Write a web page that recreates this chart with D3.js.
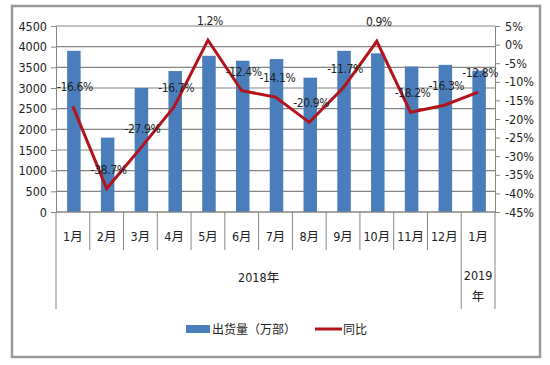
<!DOCTYPE html>
<html lang="zh">
<head>
<meta charset="UTF-8">
<title>出货量</title>
<script src="https://d3js.org/d3.v7.min.js"></script>
<style>
  body { margin: 0; background: #fff; }
  text { font-family: "Liberation Sans Narrow", "DejaVu Sans Condensed", "Liberation Sans", "Noto Sans CJK SC", sans-serif; fill: #222; }
  .cjk { font-family: "Noto Sans CJK SC", sans-serif; }
</style>
</head>
<body>
<script>
// data
var months = ["1月", "2月", "3月", "4月", "5月", "6月", "7月", "8月", "9月", "10月", "11月", "12月", "1月"];
var shipments = [3900, 1800, 3000, 3410, 3780, 3660, 3700, 3250, 3900, 3840, 3520, 3560, 3420];
var yoy = [-16.6, -38.7, -27.9, -16.7, 1.2, -12.4, -14.1, -20.9, -11.7, 0.9, -18.2, -16.3, -12.8];
var years = [{ label: "2018年", from: 0, to: 11 }, { label: "2019年", from: 12, to: 12 }];
var leftTicks = d3.range(0, 4501, 500);
var rightTicks = d3.range(-45, 6, 5);

var W = 550, H = 365;
var pLeft = 56, pRight = 495, pTop = 26, pBottom = 212;

var svg = d3.select("body").append("svg")
    .attr("width", W)
    .attr("height", H);

// outer frame
svg.append("rect")
    .attr("x", 12).attr("y", 6)
    .attr("width", 528).attr("height", 351)
    .attr("fill", "#fff")
    .attr("stroke", "#999").attr("stroke-width", 2.5);

var idx = d3.range(months.length);
var x = d3.scaleBand().domain(idx).range([pLeft, pRight]).padding(0);
var y = d3.scaleLinear().domain([0, 4500]).range([pBottom, pTop]);
var y2 = d3.scaleLinear().domain([-45, 5]).range([pBottom, pTop]);

// gridlines
svg.append("g").selectAll("line")
    .data(leftTicks)
    .enter().append("line")
    .attr("x1", pLeft).attr("x2", pRight)
    .attr("y1", d => y(d)).attr("y2", d => y(d))
    .attr("stroke", "#858585").attr("stroke-width", 1.2);

// bars
var bw = x.bandwidth() * 0.4;
svg.append("g").selectAll("rect")
    .data(shipments)
    .enter().append("rect")
    .attr("x", (d, i) => x(i) + (x.bandwidth() - bw) / 2 + 1)
    .attr("y", d => y(d))
    .attr("width", bw)
    .attr("height", d => pBottom - y(d))
    .attr("fill", "#4a7ebb");

// left axis
var ax = svg.append("g").attr("transform", "translate(" + pLeft + ",0)")
    .call(d3.axisLeft(y).tickValues(leftTicks).tickSize(5).tickPadding(4).tickFormat(d3.format("d")));
ax.select(".domain").attr("stroke", "#858585");
ax.selectAll(".tick line").attr("stroke", "#858585");
ax.selectAll("text").style("font-size", "12.5px").attr("fill", "#222");

// right axis
var ax2 = svg.append("g").attr("transform", "translate(" + pRight + ",0)")
    .call(d3.axisRight(y2).tickValues(rightTicks).tickSize(5).tickPadding(5).tickFormat(d => d + "%"));
ax2.select(".domain").attr("stroke", "#858585");
ax2.selectAll(".tick line").attr("stroke", "#858585");
ax2.selectAll("text").style("font-size", "12.5px").attr("fill", "#222");

// x axis line + category dividers
svg.append("line")
    .attr("x1", pLeft).attr("x2", pRight)
    .attr("y1", pBottom).attr("y2", pBottom)
    .attr("stroke", "#858585");

var bounds = d3.range(months.length + 1);
var longB = [0, 12, 13];
svg.append("g").selectAll("line")
    .data(bounds)
    .enter().append("line")
    .attr("x1", d => d < months.length ? x(d) : pRight)
    .attr("x2", d => d < months.length ? x(d) : pRight)
    .attr("y1", pBottom)
    .attr("y2", d => longB.indexOf(d) >= 0 ? 309 : 250)
    .attr("stroke", "#858585");

svg.append("g").selectAll("text")
    .data(months)
    .enter().append("text")
    .attr("x", (d, i) => x(i) + x.bandwidth() / 2)
    .attr("y", 241)
    .attr("text-anchor", "middle")
    .style("font-size", "12.5px")
    .text(d => d);

// year labels
svg.append("text")
    .attr("x", (x(years[0].from) + x(years[0].to) + x.bandwidth()) / 2)
    .attr("y", 282)
    .attr("text-anchor", "middle")
    .style("font-size", "12.5px")
    .text(years[0].label);

var y19 = svg.append("text")
    .attr("x", x(years[1].from) + x.bandwidth() / 2)
    .attr("y", 280)
    .attr("text-anchor", "middle")
    .style("font-size", "12.5px");
y19.append("tspan").text(years[1].label.slice(0, 4));
y19.append("tspan")
    .attr("x", x(years[1].from) + x.bandwidth() / 2)
    .attr("dy", 21)
    .text(years[1].label.slice(4));

// yoy line
var line = d3.line()
    .x((d, i) => x(i) + x.bandwidth() / 2)
    .y(d => y2(d));

svg.append("path")
    .datum(yoy)
    .attr("fill", "none")
    .attr("stroke", "#b3141c")
    .attr("stroke-width", 3)
    .attr("stroke-linejoin", "miter")
    .attr("d", line);

// data labels
svg.append("g").selectAll("text")
    .data(yoy)
    .enter().append("text")
    .attr("x", (d, i) => x(i) + x.bandwidth() / 2 + 2)
    .attr("y", d => y2(d) - 15)
    .attr("text-anchor", "middle")
    .style("font-size", "12px")
    .style("letter-spacing", "-0.4px")
    .text(d => d.toFixed(1) + "%");

// legend
var lg = svg.append("g");
lg.append("rect")
    .attr("x", 186).attr("y", 325)
    .attr("width", 24).attr("height", 8)
    .attr("fill", "#4a7ebb");
lg.append("text")
    .attr("class", "cjk")
    .attr("x", 212).attr("y", 334)
    .style("font-size", "12px")
    .text("出货量（万部）");
lg.append("line")
    .attr("x1", 315).attr("x2", 342)
    .attr("y1", 329).attr("y2", 329)
    .attr("stroke", "#b3141c").attr("stroke-width", 3);
lg.append("text")
    .attr("class", "cjk")
    .attr("x", 343).attr("y", 334)
    .style("font-size", "12px")
    .text("同比");
</script>
</body>
</html>
